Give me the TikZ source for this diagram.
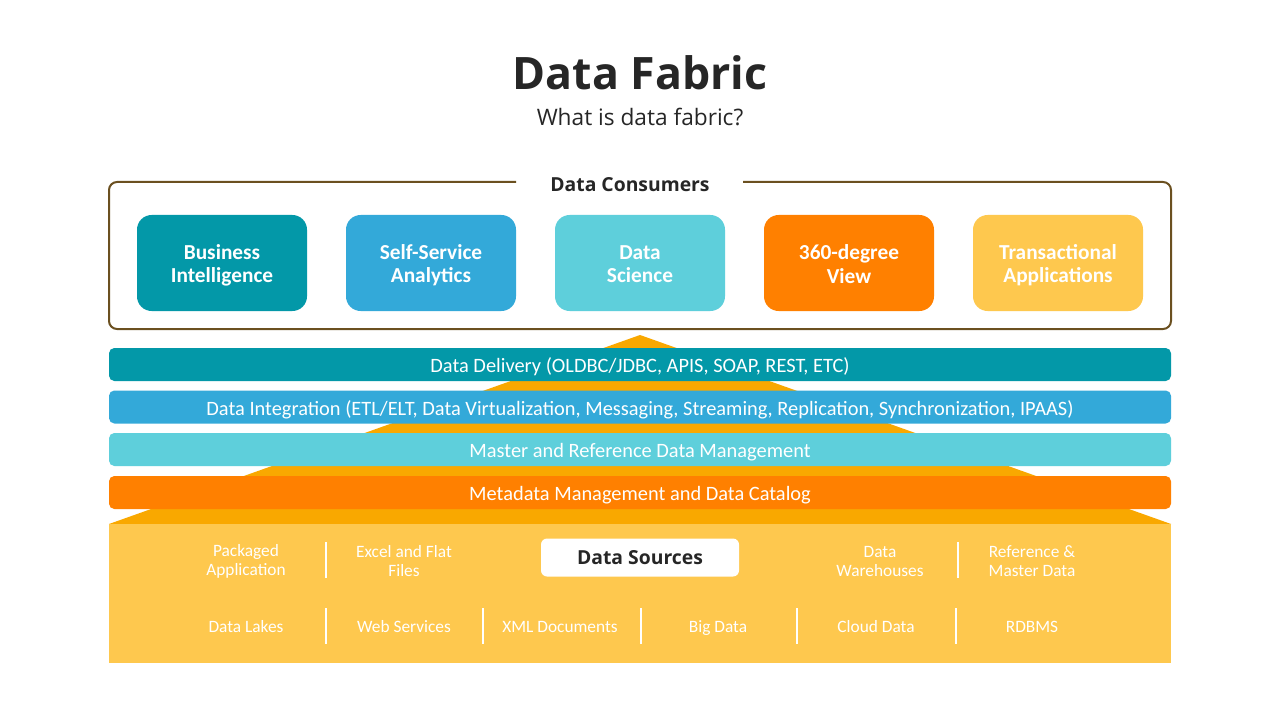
\documentclass[tikz,border=0pt]{standalone}
\usepackage{fontspec}
\setmainfont{Carlito}
\newfontfamily\hfont{Open Sans}
\definecolor{cteal}{HTML}{0398A8}
\definecolor{cblue}{HTML}{33A9D9}
\definecolor{clight}{HTML}{5ECFDB}
\definecolor{corange}{HTML}{FF8000}
\definecolor{cyellow}{HTML}{FEC84E}
\definecolor{camber}{HTML}{F9A800}
\definecolor{cbrown}{HTML}{6B5020}
\definecolor{ctext}{HTML}{262626}
\tikzset{
  consumer/.style={rounded corners=11pt, minimum width=127.5pt, minimum height=72pt, inner sep=0pt},
  ctext/.style={text=white, align=center, font=\bfseries\fontsize{16}{17.5}\selectfont, inner sep=0pt},
  band/.style={rounded corners=4pt, minimum width=796.5pt, minimum height=24.75pt, text=white, font=\fontsize{15.3}{17}\selectfont, inner sep=0pt, text height=14.5pt, text depth=2.5pt},
  src/.style={text=white, align=center, font=\fontsize{13}{14.3}\selectfont, inner sep=0pt},
  src1/.style={src, text height=12pt, text depth=3pt},
  divider/.style={draw=white, line width=1.5pt}
}
\begin{document}
\begin{tikzpicture}[x=0.75pt,y=-0.75pt]
\useasboundingbox[fill=white] (0,0) rectangle (1280,720);
% title
\node[font=\hfont\bfseries\fontsize{33.5}{40}\selectfont, text=ctext] (title) at (640,73) {Data Fabric};
\node[font=\hfont\fontsize{17}{20}\selectfont, text=ctext] (subtitle) at (640,117) {What is data fabric?};
% consumers frame
\draw[cbrown, line width=1.5pt, rounded corners=6pt] (516,182) -- (109,182) -- (109,329) -- (1171,329) -- (1171,182) -- (743,182);
\node[font=\hfont\bfseries\fontsize{14.5}{17}\selectfont, text=ctext] (consumers) at (630,185) {Data Consumers};
\node[consumer, fill=cteal] (bi) at (222,263) {};
\node[consumer, fill=cblue] (ssa) at (431,263) {};
\node[consumer, fill=clight] (ds) at (640,263) {};
\node[consumer, fill=corange] (v360) at (849,263) {};
\node[consumer, fill=cyellow] (ta) at (1058,263) {};
\node[ctext] (bit) at (222,265) {Business\\Intelligence};
\node[ctext] (ssat) at (431,265) {Self-Service\\Analytics};
\node[ctext] (dst) at (640,264) {Data\\Science};
\node[ctext] (v360t) at (849,264) {360-degree\\View};
\node[ctext] (tat) at (1058,265) {Transactional\\Applications};
% pyramid
\fill[camber] (640,335) -- (1171,524) -- (109,524) -- cycle;
\fill[cyellow] (109,524) rectangle (1171,663);
% bands
\node[band, fill=cteal] (delivery) at (640,364.5) {Data Delivery (OLDBC/JDBC, APIS, SOAP, REST, ETC)};
\node[band, fill=cblue] (integration) at (640,407) {Data Integration (ETL/ELT, Data Virtualization, Messaging, Streaming, Replication, Synchronization, IPAAS)};
\node[band, fill=clight] (master) at (640,449.5) {Master and Reference Data Management};
\node[band, fill=corange] (metadata) at (640,492.5) {Metadata Management and Data Catalog};
% data sources
\node[fill=white, rounded corners=4.5pt, minimum width=148.5pt, minimum height=28.5pt, inner sep=0pt, font=\hfont\bfseries\fontsize{14.5}{17}\selectfont, text=ctext] (sources) at (640,557.5) {Data Sources};
\node[src] (pkg) at (246,561.5) {Packaged\\Application};
\node[src] (excel) at (404,561.5) {Excel and Flat\\Files};
\node[src] (dw) at (880,561.5) {Data\\Warehouses};
\node[src] (ref) at (1032,561.5) {Reference \&\\Master Data};
\node[src1] (lakes) at (246,626) {Data Lakes};
\node[src1] (web) at (404,626) {Web Services};
\node[src1] (xml) at (560,626) {XML Documents};
\node[src1] (big) at (718,626) {Big Data};
\node[src1] (cloud) at (876,626) {Cloud Data};
\node[src1] (rdbms) at (1032,626) {RDBMS};
\draw[divider] (326,542) -- (326,578);
\draw[divider] (958,542) -- (958,578);
\draw[divider] (326,608) -- (326,644);
\draw[divider] (483,608) -- (483,644);
\draw[divider] (641,608) -- (641,644);
\draw[divider] (797,608) -- (797,644);
\draw[divider] (956,608) -- (956,644);
\end{tikzpicture}
\end{document}
